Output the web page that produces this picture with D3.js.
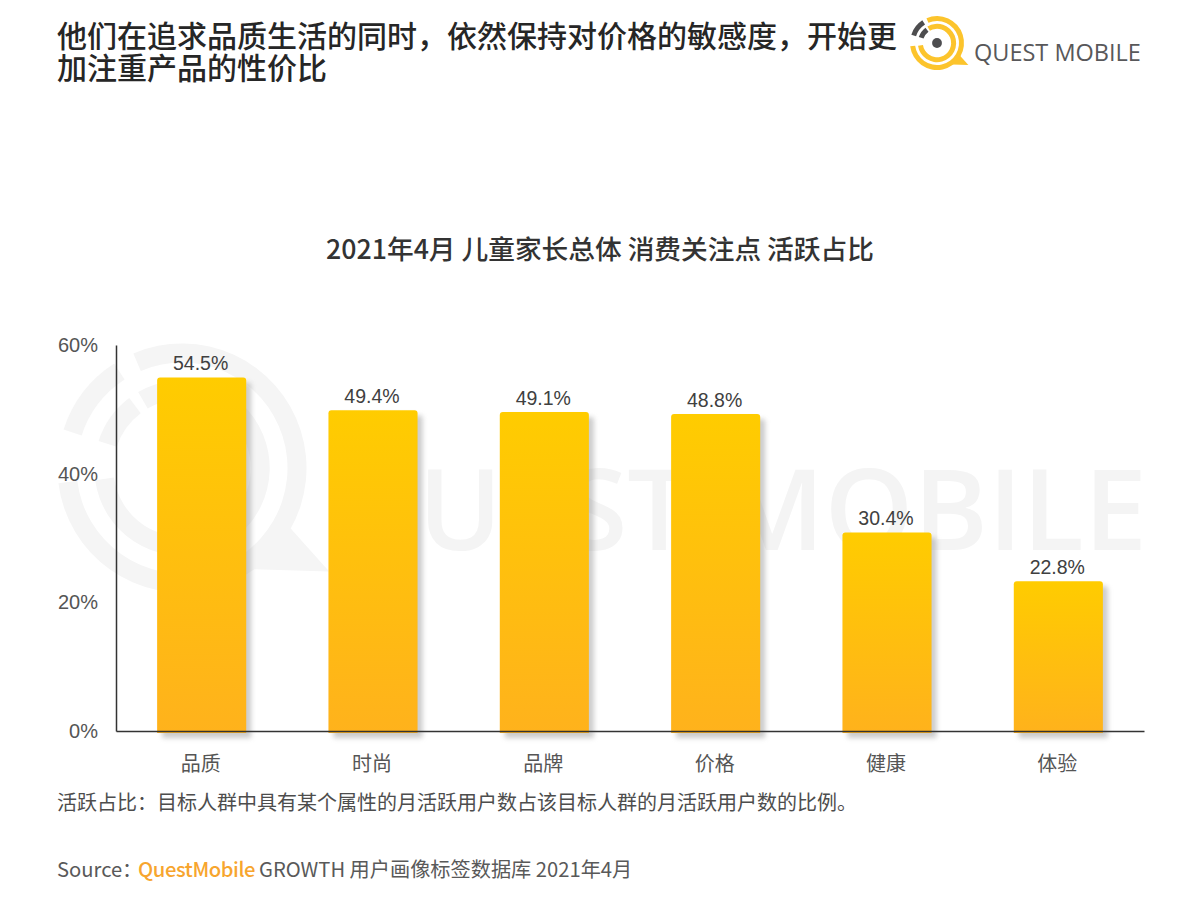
<!DOCTYPE html>
<html>
<head>
<meta charset="utf-8">
<script src="https://cdn.jsdelivr.net/npm/d3@7"></script>
<style>
  html, body { margin: 0; padding: 0; background: #fff; }
  svg { display: block; }
  text { font-family: "Noto Sans CJK SC", "Noto Sans", sans-serif; }
  .num { font-family: "Liberation Sans", Arial, sans-serif; }
</style>
</head>
<body>
<script>
// Chart data
const categories = ["品质", "时尚", "品牌", "价格", "健康", "体验"];
const values = [54.5, 49.4, 49.1, 48.8, 30.4, 22.8];
const yTicks = [0, 20, 40, 60];
const titleLines = ["他们在追求品质生活的同时，依然保持对价格的敏感度，开始更", "加注重产品的性价比"];
const chartTitle = "2021年4月 儿童家长总体 消费关注点 活跃占比";
const noteText = "活跃占比：目标人群中具有某个属性的月活跃用户数占该目标人群的月活跃用户数的比例。";

const width = 1200, height = 900;
const margin = { top: 345, right: 56, bottom: 169, left: 116 };

const svg = d3.select("body").append("svg")
  .attr("width", width)
  .attr("height", height);

const defs = svg.append("defs");

const grad = defs.append("linearGradient")
  .attr("id", "barFill")
  .attr("x1", 0).attr("y1", 0).attr("x2", 0).attr("y2", 1);
grad.append("stop").attr("offset", "0%").attr("stop-color", "#ffcc00");
grad.append("stop").attr("offset", "100%").attr("stop-color", "#ffb21c");

const blur = defs.append("filter")
  .attr("id", "barShadow")
  .attr("x", "-20%").attr("y", "-10%").attr("width", "150%").attr("height", "120%");
blur.append("feGaussianBlur").attr("stdDeviation", 2.5);

// Draws the ring logo, used for the header mark and the watermark
function drawLogo(g, r, stroke, ringColor, dotColor) {
  const arc = d3.arc();
  const ring = (rad, a0, a1, w) => arc({
    innerRadius: rad - w / 2, outerRadius: rad + w / 2,
    startAngle: a0 * Math.PI / 180, endAngle: a1 * Math.PI / 180
  });
  g.append("path").attr("d", ring(r, -23, 263, stroke)).attr("fill", ringColor);
  g.append("path").attr("d", ring(r * 0.68, -30, 262, stroke)).attr("fill", ringColor);
  g.append("path").attr("d", ring(r, -72, -33, stroke)).attr("fill", dotColor);
  g.append("path").attr("d", ring(r * 0.68, -72, -37, stroke)).attr("fill", dotColor);
  g.append("circle").attr("r", r * 0.2).attr("fill", dotColor);
  // speech bubble tail
  g.append("path")
    .attr("d", d3.line()([[r * 0.85, r * 0.42], [r * 1.28, r * 0.9], [r * 0.62, r * 0.88]]))
    .attr("fill", ringColor);
}

// Watermark
const wm = svg.append("g");
drawLogo(wm.append("g").attr("transform", "translate(182,468)"), 115, 19, "#f5f5f5", "#f5f5f5");
wm.append("text")
  .attr("x", 1147).attr("y", 550)
  .attr("text-anchor", "end")
  .attr("fill", "#f4f4f4")
  .attr("font-size", 113)
  .attr("font-weight", 600)
  .style("font-family", "'Open Sans', sans-serif")
  .text("QUEST MOBILE");

// Scales
const x = d3.scaleBand()
  .domain(categories)
  .range([margin.left, width - margin.right])
  .paddingInner(0.48)
  .paddingOuter(0.24);

const y = d3.scaleLinear()
  .domain([0, 60])
  .range([height - margin.bottom, margin.top]);

// bars sit about 3px above the axis scale in the original, and run past the baseline
const barLift = 3, barOverrun = 5;

const bars = svg.append("g");

function barPath(d, i) {
  const x0 = x(categories[i]), x1 = x0 + x.bandwidth();
  const top = y(d) - barLift, bottom = y(0) + barOverrun - barLift, r = 3;
  return `M${x0},${bottom}V${top + r}Q${x0},${top} ${x0 + r},${top}H${x1 - r}Q${x1},${top} ${x1},${top + r}V${bottom}Z`;
}

bars.selectAll(".shadow")
  .data(values)
  .join("path")
  .attr("class", "shadow")
  .attr("d", barPath)
  .attr("transform", "translate(5,5)")
  .attr("fill", "#9a9a9a")
  .attr("opacity", 0.5)
  .attr("filter", "url(#barShadow)");

bars.selectAll(".bar")
  .data(values)
  .join("path")
  .attr("class", "bar")
  .attr("d", barPath)
  .attr("fill", "url(#barFill)");

// Axes
const xAxis = svg.append("g")
  .attr("transform", `translate(0,${y(0)})`)
  .call(d3.axisBottom(x).tickSize(0).tickPadding(26));
xAxis.select(".domain").attr("stroke", "#333").attr("stroke-width", 1.5);
xAxis.selectAll("text")
  .attr("dx", -1)
  .attr("font-size", 20)
  .attr("fill", "#555")
  .style("font-family", "'Noto Sans CJK SC'");

const yAxis = svg.append("g")
  .attr("transform", `translate(${margin.left},0)`)
  .call(d3.axisLeft(y).tickValues(yTicks).tickFormat(d => d + "%").tickSize(0).tickPadding(18));
yAxis.select(".domain").attr("stroke", "#333").attr("stroke-width", 1.5);
yAxis.selectAll("text")
  .attr("class", "num")
  .attr("font-size", 20)
  .attr("fill", "#555");

// Value labels
svg.append("g").selectAll("text")
  .data(values)
  .join("text")
  .attr("class", "num")
  .attr("x", (d, i) => x(categories[i]) + x.bandwidth() / 2 - 1)
  .attr("y", d => y(d) - barLift - 7)
  .attr("text-anchor", "middle")
  .attr("font-size", 19.5)
  .attr("fill", "#404040")
  .text(d => d.toFixed(1) + "%");

// Header
svg.append("g").selectAll("text")
  .data(titleLines)
  .join("text")
  .attr("x", 57)
  .attr("y", (d, i) => 47 + i * 32)
  .attr("font-size", 30)
  .attr("font-weight", 500)
  .attr("fill", "#262626")
  .text(d => d);

svg.append("text")
  .attr("x", 600).attr("y", 259)
  .attr("text-anchor", "middle")
  .attr("font-size", 26.7)
  .attr("font-weight", 500)
  .attr("fill", "#333")
  .text(chartTitle);

// Logo
drawLogo(svg.append("g").attr("transform", "translate(937,43)"), 24.5, 5, "#fcc42c", "#4d4d4f");
svg.append("text")
  .attr("x", 974).attr("y", 61)
  .attr("font-size", 23.5)
  .attr("font-weight", 500)
  .attr("fill", "#58585a")
  .style("font-family", "'Open Sans', sans-serif")
  .text("QUEST MOBILE");

// Footer
svg.append("text")
  .attr("x", 57).attr("y", 810)
  .attr("font-size", 20)
  .attr("fill", "#4d4d4d")
  .text(noteText);

const source = svg.append("text")
  .attr("x", 57).attr("y", 877)
  .attr("font-size", 20.2)
  .attr("fill", "#595959");
source.append("tspan").text("Source：");
source.append("tspan").attr("x", 138).attr("fill", "#f7a52e").attr("font-weight", 500).attr("letter-spacing", -0.4).text("QuestMobile");
source.append("tspan").attr("x", 259).text("GROWTH 用户画像标签数据库 2021年4月");
</script>
</body>
</html>
